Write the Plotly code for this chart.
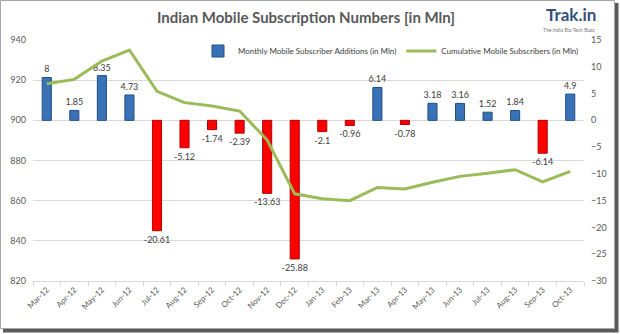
import plotly.graph_objects as go

months = ["Mar-12", "Apr-12", "May-12", "Jun-12", "Jul-12", "Aug-12", "Sep-12", "Oct-12",
          "Nov-12", "Dec-12", "Jan-13", "Feb-13", "Mar-13", "Apr-13", "May-13", "Jun-13",
          "Jul-13", "Aug-13", "Sep-13", "Oct-13"]
additions = [8, 1.85, 8.35, 4.73, -20.61, -5.12, -1.74, -2.39, -13.63, -25.88, -2.1, -0.96,
             6.14, -0.78, 3.18, 3.16, 1.52, 1.84, -6.14, 4.9]
cumulative = [918.2, 920.4, 929.5, 935.0, 914.4, 908.8, 907.1, 904.6, 890.2, 863.4, 861.0, 860.0,
              866.6, 865.8, 869.2, 872.1, 873.7, 875.4, 869.3, 874.6]
left_ticks = [820, 840, 860, 880, 900, 920, 940]
right_ticks = [-30, -25, -20, -15, -10, -5, 0, 5, 10, 15]

W, H = 620, 334
L, R, T, B = 33, 584, 40, 281


def px(x):
    return (x - L) / (R - L)


def py(y):
    return (B - y) / (B - T)


FONT = "Lato"
GRAY = "#595959"

bar_colors = ["#3a72b8" if v >= 0 else "#ff0000" for v in additions]
bar_lines = ["#1f4e85" if v >= 0 else "#b00000" for v in additions]

fig = go.Figure()
fig.add_trace(go.Bar(
    x=months, y=additions, yaxis="y", name="Monthly Mobile Subscriber Additions (in Mln)",
    marker=dict(color=bar_colors, line=dict(color=bar_lines, width=1)),
    width=0.33, text=[f"{v:g}" for v in additions], textposition="outside",
    textfont=dict(size=9, color="#404040", family=FONT), cliponaxis=False,
    constraintext="none",
))
fig.add_trace(go.Scatter(
    x=months, y=cumulative, yaxis="y2", mode="lines",
    name="Cumulative Mobile Subscribers (in Mln)",
    line=dict(color="#9bbb59", width=3),
))

shapes = [
    dict(type="rect", xref="paper", yref="paper", layer="below",
         x0=px(3), x1=px(618.5), y0=py(3), y1=py(332.5),
         fillcolor="#5a5a5a", line=dict(width=0)),
    dict(type="rect", xref="paper", yref="paper", layer="below",
         x0=px(0.5), x1=px(614.5), y0=py(0.5), y1=py(328.5),
         fillcolor="white", line=dict(color="#a6a6a6", width=1)),
]

annotations = [
    dict(text="<b>Trak.in</b>", xref="paper", yref="paper", x=px(571), y=py(15),
         xanchor="center", yanchor="middle", showarrow=False,
         font=dict(family=FONT, size=17, color="#34527a")),
    dict(text="The India Biz-Tech Buzz", xref="paper", yref="paper", x=px(569), y=py(30.5),
         xanchor="center", yanchor="middle", showarrow=False,
         font=dict(family=FONT, size=5, color="#777777")),
]

fig.update_layout(
    width=W, height=H,
    margin=dict(l=L, r=W - R, t=T, b=H - B, pad=0, autoexpand=False),
    paper_bgcolor="white", plot_bgcolor="rgba(0,0,0,0)",
    font=dict(family=FONT, color=GRAY),
    title=dict(text="<b>Indian Mobile Subscription Numbers [in Mln]</b>",
               x=306 / W, xanchor="center", y=1 - 18 / H, yanchor="middle",
               font=dict(family=FONT, size=15, color=GRAY)),
    showlegend=True,
    legend=dict(orientation="h", x=1.0, xanchor="right", y=py(51), yanchor="middle",
                font=dict(size=8, color="#404040", family=FONT), bgcolor="rgba(0,0,0,0)",
                itemwidth=30, tracegroupgap=0),
    bargap=0.67,
    xaxis=dict(type="category", tickson="boundaries", ticks="outside", ticklen=4,
               tickcolor="#d9d9d9", showline=True, linecolor="#d9d9d9", linewidth=1,
               tickangle=-45, tickfont=dict(size=8, color=GRAY), showgrid=False),
    yaxis=dict(range=[-30, 15], tickvals=right_ticks, side="right", showgrid=False,
               zeroline=False, tickfont=dict(size=9, color=GRAY), ticklabelstandoff=6),
    yaxis2=dict(range=[820, 940], tickvals=left_ticks, side="left", overlaying="y",
                showgrid=True, gridcolor="#d9d9d9", gridwidth=1, zeroline=False,
                tickfont=dict(size=9, color=GRAY), ticklabelstandoff=6),
    shapes=shapes, annotations=annotations,
)

fig.write_html("out.html")
